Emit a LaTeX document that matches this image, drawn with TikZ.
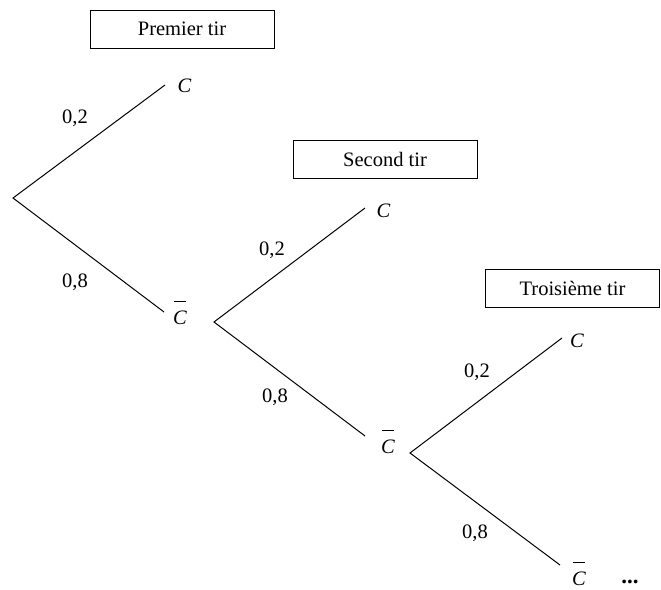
\documentclass[tikz,border=0pt]{standalone}
\usepackage{fontspec}
\setmainfont{Liberation Serif}
\newcommand{\notc}{\leavevmode\rlap{\hspace{0.04em}\raisebox{1.08em}{\rule{0.6em}{0.05em}}}\textit{C}}
\begin{document}
\begin{tikzpicture}[x=1pt,y=-1pt,
  every node/.style={font=\fontsize{20.5}{24}\selectfont},
  branch/.style={draw=black,line width=1pt},
  titlebox/.style={draw=black,line width=1pt,minimum height=38pt,inner sep=0pt},
  leaf/.style={inner sep=0pt,anchor=base},
  prob/.style={inner sep=0pt}]
\useasboundingbox (0,0) rectangle (661,589);
% title boxes
\node[titlebox,minimum width=184pt] (t1) at (182,29) {Premier tir};
\node[titlebox,minimum width=184pt] (t2) at (385,159) {Second tir};
\node[titlebox,minimum width=174pt] (t3) at (572.5,288) {Troisième tir};
% branch points
\coordinate (r1) at (13,198);
\coordinate (a1) at (165,85);
\coordinate (b1) at (164,312);
\coordinate (r2) at (214,322);
\coordinate (a2) at (365,208);
\coordinate (b2) at (365,436);
\coordinate (r3) at (410,453);
\coordinate (a3) at (562,338);
\coordinate (b3) at (560,565);
% branches
\draw[branch] (a1) -- (r1) -- (b1);
\draw[branch] (a2) -- (r2) -- (b2);
\draw[branch] (a3) -- (r3) -- (b3);
% leaf labels
\node[leaf] (c1) at (184.5,92) {\textit{C}};
\node[leaf] (nc1) at (180,324) {\notc};
\node[leaf] (c2) at (383.5,217) {\textit{C}};
\node[leaf] (nc2) at (388,453) {\notc};
\node[leaf] (c3) at (577,347) {\textit{C}};
\node[leaf] (nc3) at (579,585) {\notc};
\node[leaf,font=\fontsize{23}{26}\selectfont] (dots) at (630,583) {\textbf{...}};
% probabilities
\node[prob] (p1) at (75,118) {0,2};
\node[prob] (q1) at (75,282) {0,8};
\node[prob] (p2) at (272,250) {0,2};
\node[prob] (q2) at (275,397) {0,8};
\node[prob] (p3) at (477,372) {0,2};
\node[prob] (q3) at (475,533) {0,8};
\end{tikzpicture}
\end{document}
